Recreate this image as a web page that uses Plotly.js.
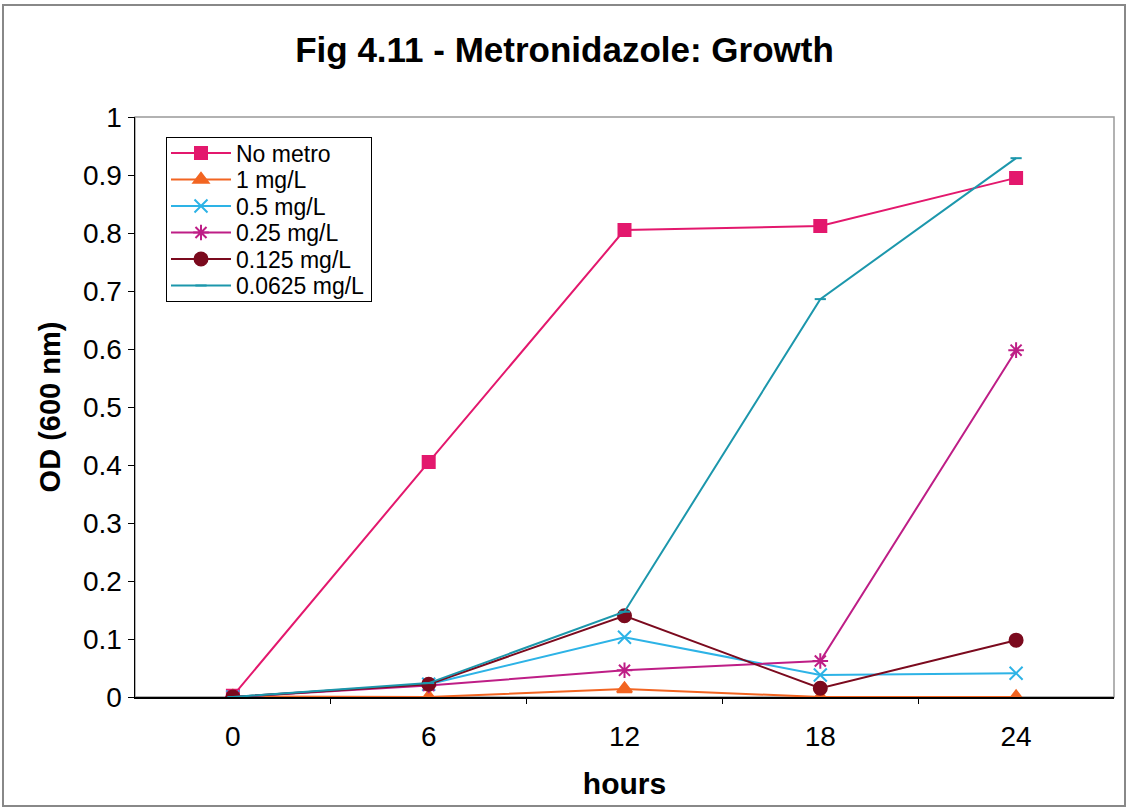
<!DOCTYPE html>
<html><head><meta charset="utf-8">
<script src="https://cdn.plot.ly/plotly-3.0.1.min.js"></script>
<style>html,body{margin:0;padding:0;background:#fff;}#chart{width:1129px;height:810px;}</style>
</head><body><div id="chart"></div>
<script>
const hours = [0, 6, 12, 18, 24];
const seriesNames = ["No metro", "1 mg/L", "0.5 mg/L", "0.25 mg/L", "0.125 mg/L", "0.0625 mg/L"];
const noMetro = [0.002, 0.405, 0.805, 0.812, 0.895];
const mg1 = [0.001, 0.0, 0.014, 0.0, 0.0];
const mg05 = [0.0, 0.022, 0.103, 0.038, 0.041];
const mg025 = [0.0, 0.020, 0.046, 0.062, 0.598];
const mg0125 = [0.0, 0.022, 0.140, 0.015, 0.098];
const mg00625 = [0.0, 0.024, 0.147, 0.686, 0.929];
const xTickLabels = ["0", "6", "12", "18", "24"];
const xTickMarks = [3, 9, 15, 21];

const L = 135, R = 15, T = 117, B = 113, W = 1129, H = 810;
const pw = W - L - R, ph = H - T - B;
const px = v => (v - L) / pw;
const py = v => 1 - (v - T) / ph;
const FONT = "Liberation Sans, Arial, sans-serif";

const styles = [
  {color: "#E3186D", symbol: "square", size: 12},
  {color: "#F26522", symbol: "triangle-up", size: 13},
  {color: "#2DB3E6", symbol: "x-thin-open", size: 13},
  {color: "#BE1E86", symbol: "asterisk-open", size: 13},
  {color: "#7B0A1E", symbol: "circle", size: 13},
  {color: "#1C97AC", symbol: "line-ew-open", size: 8}
];
const dataArr = [noMetro, mg1, mg05, mg025, mg0125, mg00625];
const traces = dataArr.map((ys, i) => ({
  x: hours, y: ys, name: seriesNames[i], type: "scatter", mode: "lines+markers",
  line: {color: styles[i].color, width: 2},
  marker: {color: styles[i].color, symbol: styles[i].symbol, size: styles[i].size,
           line: {color: styles[i].color, width: 2}}
}));
traces.push({x: [0], y: [0], xaxis: "x2", mode: "markers", marker: {opacity: 0}, showlegend: false, hoverinfo: "skip"});

const layout = {
  width: W, height: H,
  margin: {l: L, r: R, t: T, b: B},
  paper_bgcolor: "#ffffff", plot_bgcolor: "#ffffff",
  font: {family: FONT, color: "#000", size: 28},
  title: {text: "<b>Fig 4.11 - Metronidazole: Growth</b>", x: 0.5, xanchor: "center", y: 1 - 50/H, yanchor: "middle",
          font: {size: 35, family: FONT}},
  xaxis: {range: [-3, 27], tickvals: hours, ticktext: xTickLabels, ticks: "", showgrid: false, zeroline: false,
          showline: true, linecolor: "#000", linewidth: 1.5, tickfont: {size: 28}, ticklabelstandoff: 14,
          title: {text: "<b>hours</b>", font: {size: 30}, standoff: 22}},
  xaxis2: {overlaying: "x", matches: "x", range: [-3, 27], tickvals: xTickMarks, ticks: "outside", ticklen: 6,
           tickcolor: "#000", showticklabels: false, showgrid: false, zeroline: false, showline: false},
  yaxis: {range: [0, 1], dtick: 0.1, tick0: 0, ticks: "outside", ticklen: 6, tickcolor: "#000", showgrid: false,
          zeroline: false, showline: true, linecolor: "#000", linewidth: 1.5, tickfont: {size: 28},
          title: {text: "<b>OD (600 nm)</b>", font: {size: 29}, standoff: 14}},
  showlegend: true,
  legend: {x: px(166), y: py(137), xanchor: "left", yanchor: "top", bgcolor: "#fff", bordercolor: "#000", borderwidth: 1,
           font: {size: 23}, tracegroupgap: 0, itemwidth: 60},
  shapes: [
    {type: "rect", xref: "paper", yref: "paper", x0: 0, x1: 1, y0: 0, y1: 1, line: {color: "#999", width: 1.5}, layer: "below"},
    {type: "rect", xref: "paper", yref: "paper", x0: px(3), x1: px(1125), y0: py(806), y1: py(5), line: {color: "#888", width: 2}}
  ]
};
Plotly.newPlot("chart", traces, layout, {displayModeBar: false, staticPlot: true}).then(gd => {
  // compact legend rows to match the tight spacing of the original
  const rowH = 26.5, top = 16;
  const items = gd.querySelectorAll(".legend .traces");
  items.forEach((el, i) => {
    el.setAttribute("transform", `translate(0,${top + i * rowH})`);
  });
  const boxH = top + (items.length - 1) * rowH + 15;
  gd.querySelectorAll(".legend rect.bg").forEach(r => r.setAttribute("height", boxH));
  gd.querySelectorAll("defs clipPath[id*='legend'] rect").forEach(r => r.setAttribute("height", boxH));
});
</script></body></html>
